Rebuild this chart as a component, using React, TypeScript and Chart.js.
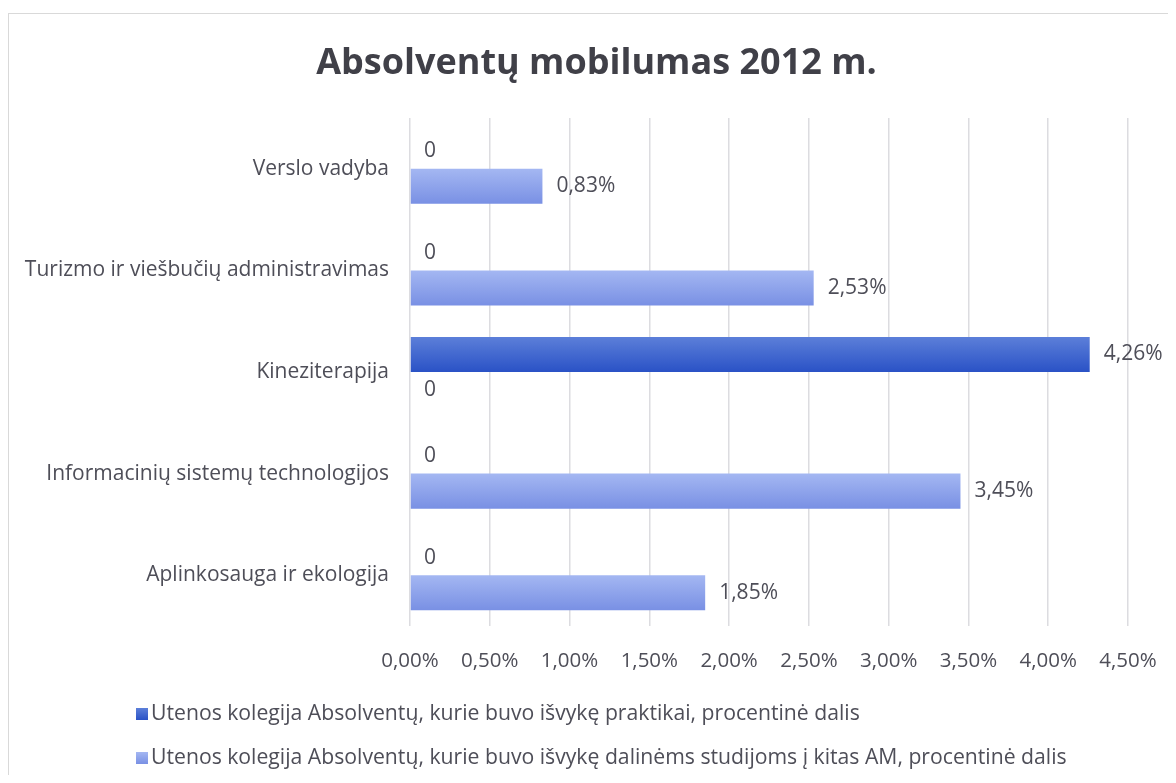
import React, { useEffect, useRef } from "react";
import { Chart, registerables } from "chart.js";

Chart.register(...registerables);

const chartTitle = "Absolventų mobilumas 2012 m.";
const categories = [
  "Verslo vadyba",
  "Turizmo ir viešbučių administravimas",
  "Kineziterapija",
  "Informacinių sistemų technologijos",
  "Aplinkosauga ir ekologija",
];
const seriesNames = [
  "Utenos kolegija Absolventų, kurie buvo išvykę praktikai, procentinė dalis",
  "Utenos kolegija Absolventų, kurie buvo išvykę dalinėms studijoms į kitas AM, procentinė dalis",
];
const praktikaiValues = [0, 0, 4.26, 0, 0];
const studijosValues = [0.83, 2.53, 0, 3.45, 1.85];
const xTickValues = [0, 0.5, 1, 1.5, 2, 2.5, 3, 3.5, 4, 4.5];

const seriesGradients = [
  ["#5c7fd9", "#2a52c6"],
  ["#a4b7f2", "#7990e4"],
];
const seriesSolid = ["#3460cc", "#8ea3ea"];

const FONT = "'Open Sans', 'DejaVu Sans', sans-serif";
const TEXT_COLOR = "#4e4e58";
const LABEL_SIZE = 21;
const LEGEND_SIZE = 21.2;

const fmtPct = (v: number) => v.toFixed(2).replace(".", ",") + "%";

const titlePlugin = {
  id: "customTitle",
  afterDraw(chart: any) {
    const ctx = chart.ctx;
    ctx.save();
    ctx.font = `bold 36px ${FONT}`;
    ctx.fillStyle = "#404048";
    ctx.textAlign = "center";
    ctx.textBaseline = "middle";
    ctx.fillText(chartTitle, chart.width / 2 + 4, chart.chartArea.top - 54);
    ctx.restore();
  },
};

const gradientPlugin = {
  id: "barGradient",
  beforeDatasetsDraw(chart: any) {
    const ctx = chart.ctx;
    chart.data.datasets.forEach((_ds: any, i: number) => {
      const meta = chart.getDatasetMeta(i);
      const stops = seriesGradients[i];
      meta.data.forEach((el: any) => {
        const y = el.y;
        const h = el.height;
        const g = ctx.createLinearGradient(0, y - h / 2, 0, y + h / 2);
        g.addColorStop(0, stops[0]);
        g.addColorStop(1, stops[1]);
        el.options = { ...el.options, backgroundColor: g };
      });
    });
  },
};

const labelPlugin = {
  id: "valueLabels",
  afterDatasetsDraw(chart: any) {
    const ctx = chart.ctx;
    ctx.save();
    ctx.font = `${LABEL_SIZE}px ${FONT}`;
    ctx.fillStyle = TEXT_COLOR;
    ctx.textAlign = "left";
    ctx.textBaseline = "middle";
    chart.data.datasets.forEach((ds: any, i: number) => {
      const meta = chart.getDatasetMeta(i);
      meta.data.forEach((el: any, j: number) => {
        const v = ds.data[j];
        const text = v === 0 ? "0" : fmtPct(v);
        ctx.fillText(text, el.x + 14, el.y);
      });
    });
    ctx.restore();
  },
};

const legendPlugin = {
  id: "customLegend",
  afterDraw(chart: any) {
    const ctx = chart.ctx;
    const area = chart.chartArea;
    ctx.save();
    ctx.font = `${LEGEND_SIZE}px ${FONT}`;
    ctx.textAlign = "left";
    ctx.textBaseline = "middle";
    seriesNames.forEach((name, i) => {
      const cy = area.bottom + 88 + i * 44;
      const x = 127;
      const g = ctx.createLinearGradient(0, cy - 6, 0, cy + 6);
      g.addColorStop(0, seriesGradients[i][0]);
      g.addColorStop(1, seriesGradients[i][1]);
      ctx.fillStyle = g;
      ctx.fillRect(x, cy - 6, 12, 12);
      ctx.fillStyle = TEXT_COLOR;
      ctx.fillText(name, x + 15, cy);
    });
    ctx.restore();
  },
};

export default function App() {
  const canvasRef = useRef<HTMLCanvasElement | null>(null);

  useEffect(() => {
    document.documentElement.style.overflow = "hidden";
    const canvas = canvasRef.current;
    if (!canvas) return;
    const chart = new Chart(canvas, {
      type: "bar",
      data: {
        labels: categories,
        datasets: [
          {
            label: seriesNames[0],
            data: praktikaiValues,
            backgroundColor: () => seriesSolid[0],
            borderWidth: 0,
            categoryPercentage: 0.69,
            barPercentage: 1,
          },
          {
            label: seriesNames[1],
            data: studijosValues,
            backgroundColor: () => seriesSolid[1],
            borderWidth: 0,
            categoryPercentage: 0.69,
            barPercentage: 1,
          },
        ],
      },
      options: {
        indexAxis: "y",
        animation: false,
        responsive: false,
        maintainAspectRatio: false,
        layout: { padding: { left: 0, right: 48, top: 104, bottom: 0 } },
        plugins: {
          legend: { display: false },
          tooltip: { enabled: false },
          title: { display: false },
        },
        scales: {
          x: {
            type: "linear",
            min: 0,
            max: 4.5,
            afterBuildTicks: (scale: any) => {
              scale.ticks = xTickValues.map((v) => ({ value: v }));
            },
            afterFit: (scale: any) => {
              scale.height = 154;
              scale.paddingLeft = 0;
              scale.paddingRight = 0;
            },
            ticks: {
              callback: (v: any) => fmtPct(Number(v)),
              color: TEXT_COLOR,
              font: { family: FONT, size: 20.5 },
              padding: 23,
              maxRotation: 0,
              autoSkip: false,
            },
            grid: {
              display: true,
              color: "#dcdce0",
              lineWidth: 1.5,
              drawTicks: false,
            },
            border: { display: false },
          },
          y: {
            type: "category",
            afterFit: (scale: any) => {
              scale.width = 401;
            },
            ticks: {
              color: TEXT_COLOR,
              font: { family: FONT, size: LABEL_SIZE },
              padding: 21,
            },
            grid: { display: false, drawTicks: false },
            border: { display: false },
          },
        },
      },
      plugins: [gradientPlugin, labelPlugin, legendPlugin, titlePlugin],
    } as any);
    return () => chart.destroy();
  }, []);

  return (
    <div
      style={{
        position: "relative",
        top: 5,
        width: 1168,
        height: 767,
        borderTop: "1px solid #d9d9d9",
        borderLeft: "1px solid #d9d9d9",
        boxSizing: "border-box",
        background: "#ffffff",
      }}
    >
      <canvas ref={canvasRef} width={1167} height={766} style={{ display: "block" }} />
    </div>
  );
}
